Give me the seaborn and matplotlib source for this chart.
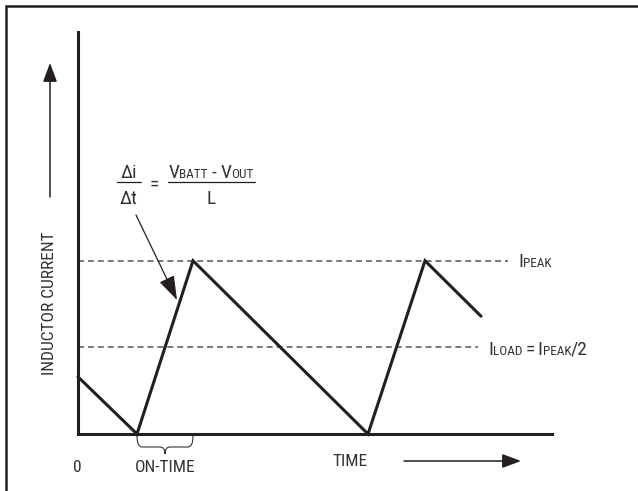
import matplotlib
matplotlib.use("Agg")
import matplotlib.pyplot as plt
from matplotlib import font_manager
from matplotlib.lines import Line2D
from matplotlib.patches import FancyArrowPatch, PathPatch
from matplotlib.path import Path
from matplotlib.transforms import Affine2D
import pandas as pd
import seaborn as sns

# Inductor current waveform: time in arbitrary units, current relative to I_PEAK
time_pts = [0.0, 0.59, 1.15, 2.90, 3.47, 4.03]
current_pts = [0.33, 0.0, 1.0, 0.0, 1.0, 0.68]
peak_current = 1.0
load_current = peak_current / 2
on_time_start, on_time_end = 0.59, 1.15
time_span = 4.74
current_span = 2.32

y_title = "INDUCTOR CURRENT"
x_title = "TIME"
origin_label = "0"
on_time_label = "ON-TIME"

W, H = 638, 491
LINE = "#231f20"
TEXT = "#333333"
DASH = "#555555"

sns.set_style("white")


def pick_family():
    for name in ["Liberation Sans Narrow", "Roboto Condensed", "Liberation Sans"]:
        try:
            font_manager.findfont(name, fallback_to_default=False)
            return name
        except Exception:
            pass
    return "DejaVu Sans"


FAMILY = [pick_family(), "DejaVu Sans"]
plt.rcParams["font.family"] = FAMILY

LABEL = 12.5
BIG = 14
SUB = 9.5

fig = plt.figure(figsize=(W / 100, H / 100), dpi=100)
fig.patch.set_facecolor("white")

# pixel coordinates with the origin at the top-left corner
pix = Affine2D().scale(1, -1).translate(0, H)

ax = fig.add_axes([78 / W, (H - 434) / H, (552 - 78) / W, (434 - 32) / H])
ax.set_xlim(0, time_span)
ax.set_ylim(0, current_span)
ax.set_xticks([])
ax.set_yticks([])
for side in ["top", "right"]:
    ax.spines[side].set_visible(False)
for side in ["left", "bottom"]:
    ax.spines[side].set_linewidth(2.2)
    ax.spines[side].set_color(LINE)
    ax.spines[side].set_capstyle("projecting")
ax.set_facecolor("none")

df = pd.DataFrame({"time": time_pts, "current": current_pts})
sns.lineplot(data=df, x="time", y="current", estimator=None, sort=False,
             color=LINE, linewidth=2.2, ax=ax)
wave = ax.lines[-1]
wave.set_solid_joinstyle("miter")
wave.set_clip_on(False)
ax.set_xlabel("")
ax.set_ylabel("")

# reference levels
ax.plot([0, 4.30], [peak_current, peak_current], color=DASH, lw=1.1,
        dashes=(3.9, 2.6), clip_on=False, zorder=1)
ax.plot([0, 4.00], [load_current, load_current], color=DASH, lw=1.1,
        dashes=(3.9, 2.6), clip_on=False, zorder=1)

# outer frame (left and top edges)
fig.add_artist(Line2D([6, 6, W], [H, 6, 6], transform=pix, color=LINE,
                      lw=1.8, solid_joinstyle="miter"))

renderer = fig.canvas.get_renderer()


def place_run(pieces, x, y, ha="left"):
    items = []
    for item in pieces:
        if isinstance(item, (int, float)):
            items.append((None, float(item)))
            continue
        s, size = item
        t = fig.text(0, 0, s, fontsize=size, transform=pix, va="baseline",
                     ha="left", color=TEXT)
        items.append((t, t.get_window_extent(renderer).width))
    total = sum(w for _, w in items)
    x0 = x - total / 2 if ha == "center" else x
    for t, w in items:
        if t is not None:
            t.set_position((x0, y))
        x0 += w


def arrow(p0, p1, hl, hw, lw):
    a = FancyArrowPatch(p0, p1, transform=pix,
                        arrowstyle=f"-|>,head_length={hl},head_width={hw}",
                        mutation_scale=10, color=LINE, lw=lw,
                        shrinkA=0, shrinkB=0)
    fig.add_artist(a)


# axis titles
fig.text(50, 303, y_title, transform=pix, rotation=90, ha="center",
         va="center", fontsize=LABEL, color=TEXT)
arrow((50, 197), (50, 63), 1.15, 0.43, 1.1)
fig.text(77, 467, origin_label, transform=pix, ha="center", va="center",
         fontsize=LABEL, color=TEXT)
fig.text(350, 461, x_title, transform=pix, ha="center", va="center",
         fontsize=LABEL, color=TEXT)
arrow((404, 461), (521, 461), 1.15, 0.43, 1.1)

# on-time brace
xa = 78 + on_time_start * 100
xb = 78 + on_time_end * 100
xc = (xa + xb) / 2
top, mid, tip, r = 436, 447, 454, 5
verts = [(xa, top), (xa, mid), (xa + r, mid), (xc - r, mid), (xc, mid), (xc, tip),
         (xb, top), (xb, mid), (xb - r, mid), (xc + r, mid), (xc, mid), (xc, tip)]
codes = [Path.MOVETO, Path.CURVE3, Path.CURVE3, Path.LINETO, Path.CURVE3, Path.CURVE3] * 2
fig.add_artist(PathPatch(Path(verts, codes), transform=pix, fill=False,
                         edgecolor=TEXT, lw=0.8))
fig.text(xc, 467, on_time_label, transform=pix, ha="center", va="center",
         fontsize=LABEL, color=TEXT)

# level labels
place_run([("I", BIG), ("PEAK", SUB)], 518, 267)
place_run([("I", BIG), ("LOAD", SUB), 3, ("=", BIG), 3, ("I", BIG), ("PEAK", SUB),
           ("/2", BIG)], 488, 355)

# slope equation
place_run([("\u0394i", BIG)], 129, 178, ha="center")
place_run([("\u0394t", BIG)], 129, 204, ha="center")
place_run([("=", BIG)], 154, 190, ha="center")
place_run([("V", BIG), ("BATT", SUB), 4, ("-", BIG), 4, ("V", BIG), ("OUT", SUB)],
          211, 178, ha="center")
place_run([("L", BIG)], 211, 204, ha="center")
for xs in ([117, 141], [168, 255]):
    fig.add_artist(Line2D(xs, [182, 182], transform=pix, color=LINE, lw=0.9))
arrow((136, 215), (177, 300), 1.5, 0.5, 0.9)

fig.savefig("out.png", dpi=100, facecolor="white")
